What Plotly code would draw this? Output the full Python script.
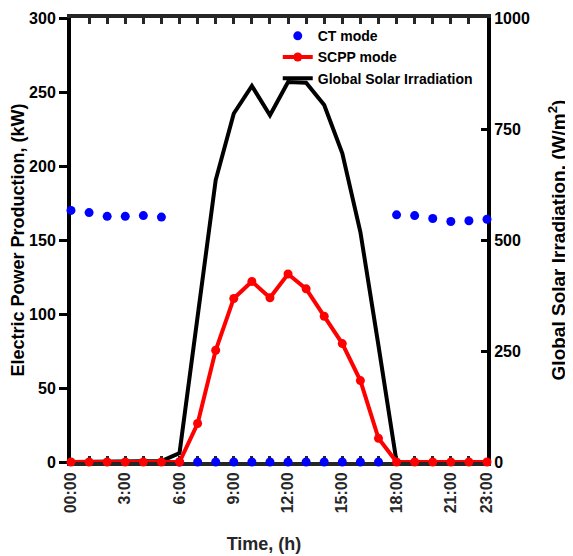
import plotly.graph_objects as go

hours = list(range(24))
hour_labels = ["00:00", "", "", "3:00", "", "", "6:00", "", "", "9:00", "", "",
               "12:00", "", "", "15:00", "", "", "18:00", "", "", "21:00", "", "23:00"]

ct_mode = [170, 168.5, 166, 166, 166.5, 165.5, 0, 0, 0, 0, 0, 0,
           0, 0, 0, 0, 0, 0, 167, 166.5, 164.5, 162.5, 163, 164]
scpp_mode = [0, 0, 0, 0, 0, 0, 0, 26, 75.5, 110.5, 122, 111,
             127, 117, 98.5, 80, 55, 16, 0, 0, 0, 0, 0, 0]
solar_irr = [0, 0, 0, 0, 0, 2, 20, 320, 635, 785, 847, 781,
             856, 854, 804, 695, 518, 262, 0, 0, 0, 0, 0, 0]

FONT = "Liberation Sans, Arial, sans-serif"

fig = go.Figure()
fig.add_trace(go.Scatter(
    x=hours, y=solar_irr, name="Global Solar Irradiation", mode="lines",
    line=dict(color="black", width=4), yaxis="y", legendrank=3, cliponaxis=False))
fig.add_trace(go.Scatter(
    x=hours, y=ct_mode, name="CT mode", mode="markers",
    marker=dict(color="#0000ff", size=9), yaxis="y2", legendrank=1, cliponaxis=False))
fig.add_trace(go.Scatter(
    x=hours, y=scpp_mode, name="SCPP mode", mode="lines+markers",
    line=dict(color="#ff0000", width=4), marker=dict(color="#ff0000", size=9),
    yaxis="y2", legendrank=2, cliponaxis=False))

fig.update_layout(
    width=565, height=546,
    margin=dict(l=63, r=86, t=10, b=92),
    paper_bgcolor="white", plot_bgcolor="white",
    font=dict(family=FONT, size=16, color="black", weight="bold"),
    showlegend=True,
    legend=dict(x=0.497, y=0.995, xanchor="left", yanchor="top",
                bgcolor="rgba(0,0,0,0)", font=dict(size=14, weight="bold"),
                tracegroupgap=0, itemwidth=30),
    xaxis=dict(range=[0, 23], tickvals=hours, ticktext=hour_labels,
               tickangle=-90, ticks="inside", ticklen=6, tickwidth=3,
               tickcolor="#262626", layer="below traces",
               showline=True, linecolor="#262626", linewidth=4, mirror="ticks",
               showgrid=False, zeroline=False, automargin=False,
               tickfont=dict(size=16, color="#262626", weight="bold"),
               title=dict(text="Time, (h)" + "&nbsp;" * 6,
                          font=dict(size=18, color="#262626", weight="bold"),
                          standoff=26)),
    yaxis=dict(side="right", range=[0, 1000], tickvals=[0, 250, 500, 750, 1000],
               ticks="inside", ticklen=6, tickwidth=3, tickcolor="black",
               layer="below traces",
               showline=True, linecolor="black", linewidth=4,
               showgrid=False, zeroline=False, automargin=False,
               tickfont=dict(size=16, color="black", weight="bold"),
               title=dict(text="Global Solar Irradiation, (W/m<sup>2</sup>)",
                          font=dict(size=19, color="black", weight="bold"), standoff=24)),
    yaxis2=dict(overlaying="y", side="left", range=[0, 300], dtick=50,
                ticks="outside", ticklen=8, tickwidth=3, tickcolor="black",
                layer="below traces",
                showline=True, linecolor="black", linewidth=4,
                showgrid=False, zeroline=False, automargin=False,
                tickfont=dict(size=16, color="black", weight="bold"),
                title=dict(text="Electric Power Production, (kW)",
                           font=dict(size=18, color="black", weight="bold"), standoff=2)),
)

fig.write_html("out.html")
